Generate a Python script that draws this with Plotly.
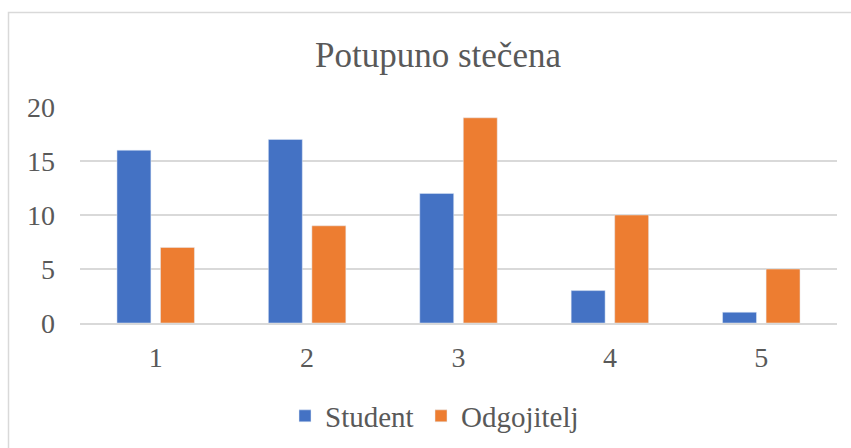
import plotly.graph_objects as go

categories = ["1", "2", "3", "4", "5"]
student = [16, 17, 12, 3, 1]
odgojitelj = [7, 9, 19, 10, 5]
y_ticks = [0, 5, 10, 15, 20]

FONT = "Liberation Serif"
GRAY = "#595959"

W, H = 851, 448
L, R, T, B = 80, 14, 107, 125
pw, ph = W - L - R, H - T - B

fig = go.Figure()
fig.add_trace(go.Bar(name="Student", x=categories, y=student, marker_color="#4472C4",
                     legend="legend"))
fig.add_trace(go.Bar(name="Odgojitelj", x=categories, y=odgojitelj, marker_color="#ED7D31",
                     legend="legend2"))

def px_x(px):
    return (px - L) / pw

def px_y(py):
    return (H - B - py) / ph

legend_common = dict(orientation="h", xanchor="left", y=px_y(416), yanchor="middle",
                     font=dict(family=FONT, size=29, color=GRAY), itemwidth=30,
                     bgcolor="rgba(0,0,0,0)")

fig.update_layout(
    width=W, height=H,
    margin=dict(l=L, r=R, t=T, b=B, autoexpand=False),
    paper_bgcolor="white", plot_bgcolor="white",
    barmode="group", bargap=0.425, bargroupgap=0.22,
    font=dict(family=FONT, color=GRAY, size=28),
    title=dict(text="Potupuno stečena", xref="container", x=438 / W, xanchor="center",
               yref="container", y=1 - 55 / H, yanchor="middle",
               font=dict(family=FONT, size=35, color=GRAY)),
    showlegend=True,
    legend=dict(x=px_x(285), **legend_common),
    legend2=dict(x=px_x(421), **legend_common),
    xaxis=dict(showgrid=False, showline=True, linecolor="#D9D9D9", linewidth=1.5,
               ticks="", ticklabelstandoff=9, tickfont=dict(family=FONT, size=28, color=GRAY)),
    yaxis=dict(range=[0, 20], tickvals=y_ticks, showgrid=True, gridcolor="#D9D9D9",
               gridwidth=1.5, zeroline=False, showline=False, ticks="",
               ticklabelstandoff=24, tickfont=dict(family=FONT, size=28, color=GRAY)),
    shapes=[dict(type="rect", xref="paper", yref="paper",
                 x0=px_x(8.5), x1=px_x(860), y0=px_y(460), y1=px_y(12.5),
                 line=dict(color="#D9D9D9", width=1.5), fillcolor="rgba(0,0,0,0)",
                 layer="below")],
)

fig.write_html("out.html", config={"displayModeBar": False},
               post_script="document.body.style.margin='0';document.body.style.overflow='hidden';")
